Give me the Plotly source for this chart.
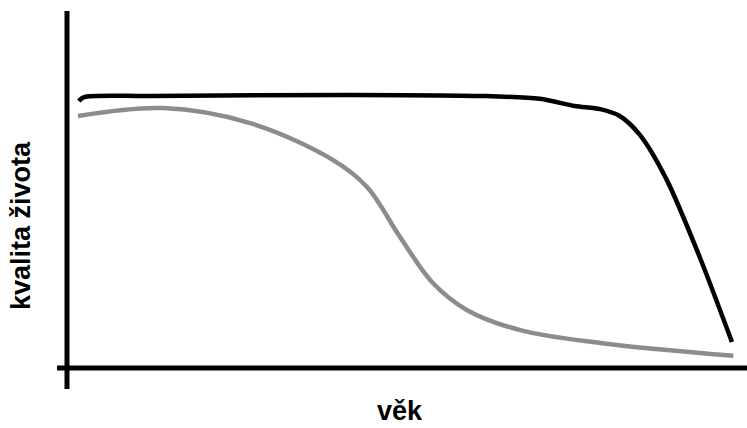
import plotly.graph_objects as go

# Data in abstract units (age 0-100, quality 0-100)
healthy_x = [1.6, 2.4, 12.2, 42.0, 61.3, 70.2, 75.4, 79.2, 82.1, 85.1, 89.1, 94.0, 98.8]
healthy_y = [74.8, 75.9, 76.2, 76.5, 76.2, 75.4, 73.4, 72.5, 70.6, 65.3, 52.7, 31.1, 7.3]

ill_x = [1.5, 14.1, 27.1, 39.4, 44.5, 49.4, 54.3, 59.4, 67.3, 79.2, 99.0]
ill_y = [70.6, 72.8, 68.6, 58.3, 50.7, 36.7, 23.8, 16.2, 10.6, 7.0, 3.4]

x_label = "věk"
y_label = "kvalita života"

fig = go.Figure()
fig.add_trace(go.Scatter(x=ill_x, y=ill_y, mode="lines",
                         line=dict(color="#8c8c8c", width=4.5, shape="spline", smoothing=1.0),
                         hoverinfo="skip", cliponaxis=False))
fig.add_trace(go.Scatter(x=healthy_x, y=healthy_y, mode="lines",
                         line=dict(color="#000000", width=4.5, shape="spline", smoothing=0.8),
                         hoverinfo="skip", cliponaxis=False))

W, H = 747, 428
ml, mr, mt, mb = 68, 7, 11, 60
pw, ph = W - ml - mr, H - mt - mb

# axis lines (overhanging like the hand-drawn original)
fig.add_shape(type="line", xref="paper", yref="paper",
              x0=-1/pw, x1=-1/pw, y0=-21/ph, y1=1,
              line=dict(color="black", width=5))
fig.add_shape(type="line", xref="paper", yref="paper",
              x0=-11/pw, x1=1 + 7/pw, y0=0, y1=0,
              line=dict(color="black", width=5))

fnt = dict(family="Liberation Sans, Arial, sans-serif", size=27, color="black")
fig.add_annotation(text=f"<b>{x_label}</b>", xref="paper", yref="paper",
                   x=(400 - ml)/pw, y=-(427 - (H - mb))/ph, showarrow=False,
                   font=fnt, xanchor="center", yanchor="bottom", borderpad=0)
fig.add_annotation(text=f"<b>{y_label}</b>", xref="paper", yref="paper",
                   x=-(ml - 21)/pw, y=(H - mb - 226)/ph, showarrow=False, textangle=-90,
                   font=fnt, xanchor="center", yanchor="middle", borderpad=0)

fig.update_layout(
    width=W, height=H,
    margin=dict(l=ml, r=mr, t=mt, b=mb),
    paper_bgcolor="white", plot_bgcolor="white",
    showlegend=False,
    xaxis=dict(range=[0, 100], visible=False, fixedrange=True),
    yaxis=dict(range=[0, 100], visible=False, fixedrange=True),
)

fig.write_html("out.html", config={"displayModeBar": False},
               post_script="document.body.style.margin='0';document.body.style.padding='0';")
